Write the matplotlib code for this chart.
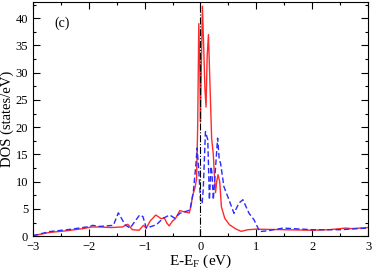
import matplotlib
matplotlib.use("Agg")
import matplotlib.pyplot as plt
from matplotlib.ticker import MultipleLocator

plt.rcParams['font.family'] = ['Liberation Serif', 'DejaVu Serif']
plt.rcParams['mathtext.default'] = 'regular'

red_x = [-3.0, -2.7, -2.4, -2.1, -1.95, -1.8, -1.6, -1.4, -1.3, -1.22, -1.1, -1.02, -0.97, -0.9, -0.8,
         -0.7, -0.65, -0.6, -0.56, -0.5, -0.45, -0.37, -0.3, -0.2, -0.17, -0.14, -0.1, -0.07, -0.05, -0.03,
         -0.01, 0.0, 0.01, 0.035, 0.06, 0.08, 0.1, 0.12, 0.143, 0.17, 0.2, 0.23, 0.256, 0.27, 0.29,
         0.315, 0.345, 0.375, 0.435, 0.52, 0.64, 0.73, 0.85, 1.0, 1.5, 2.0, 2.3, 2.6, 2.7, 3.0]
red_y = [0.1, 0.7, 1.0, 1.4, 1.7, 1.7, 1.6, 1.7, 2.2, 1.2, 1.1, 2.0, 1.5, 2.8, 3.9,
         3.2, 3.4, 2.4, 1.9, 2.8, 3.2, 4.7, 4.5, 4.3, 5.5, 7.5, 8.8, 10.5, 20, 39,
         30, 21, 28, 42.2, 34, 27, 23.7, 33, 37, 28, 18, 15, 10, 8, 10,
         11.3, 10, 5.4, 3.3, 2.1, 1.3, 0.9, 1.2, 1.3, 1.2, 1.1, 1.2, 1.5, 1.4, 1.6]

blue_x = [-3.0, -2.7, -2.3, -1.98, -1.93, -1.8, -1.56, -1.47, -1.35, -1.26, -1.09, -1.03, -0.97, -0.79,
          -0.67, -0.55, -0.46, -0.37, -0.28, -0.19, -0.13, -0.08, -0.06, -0.03, 0.0, 0.03, 0.05, 0.089,
          0.131, 0.16, 0.19, 0.206, 0.23, 0.307, 0.337, 0.36, 0.42, 0.51, 0.6, 0.69, 0.76, 0.87, 0.96,
          1.06, 1.2, 1.48, 2.0, 2.5, 3.0]
blue_y = [0.1, 0.86, 1.3, 1.8, 2.0, 1.8, 2.0, 4.3, 2.1, 1.5, 3.9, 3.6, 1.5, 2.1,
          3.3, 3.9, 3.3, 4.2, 4.5, 4.8, 7.9, 13.4, 16.2, 12, 6.7, 6.0, 8.6, 19.2,
          17.7, 6.7, 12.8, 11.6, 6.7, 18.0, 14.0, 13.4, 9.1, 6.7, 4.2, 6.1, 6.7, 4.2, 3.0,
          0.86, 1.0, 1.5, 1.2, 1.2, 1.5]

fermi_level = 0.0

fig = plt.figure(figsize=(3.74, 2.70), dpi=100)
ax = fig.add_axes([0.088, 0.125, 0.896, 0.868])

ax.plot(red_x, red_y, color='#ff2a2a', lw=1.0)
ax.plot(blue_x, blue_y, color='#2a2aff', lw=1.0, ls=(0, (4, 2)))
ax.axvline(fermi_level, color='black', lw=0.8, ls='-.')

ax.set_xlim(-3, 3)
ax.set_ylim(0, 43)
ax.xaxis.set_major_locator(MultipleLocator(1))
ax.xaxis.set_minor_locator(MultipleLocator(0.5))
ax.yaxis.set_major_locator(MultipleLocator(5))
ax.yaxis.set_minor_locator(MultipleLocator(2.5))
ax.tick_params(which='both', direction='in', top=True, right=True, labelsize=9, width=0.8)
ax.tick_params(which='major', length=5)
ax.tick_params(which='minor', length=2.5)
for s in ax.spines.values():
    s.set_linewidth(0.8)

ax.set_xlabel('E-E$_F$ (eV)', fontsize=11, labelpad=0)
ax.set_ylabel('DOS (states/eV)', fontsize=10.5, labelpad=1)
ax.text(-2.62, 39, '(c)', fontsize=10, va='center', ha='left')

fig.savefig('out.png', dpi=100)
